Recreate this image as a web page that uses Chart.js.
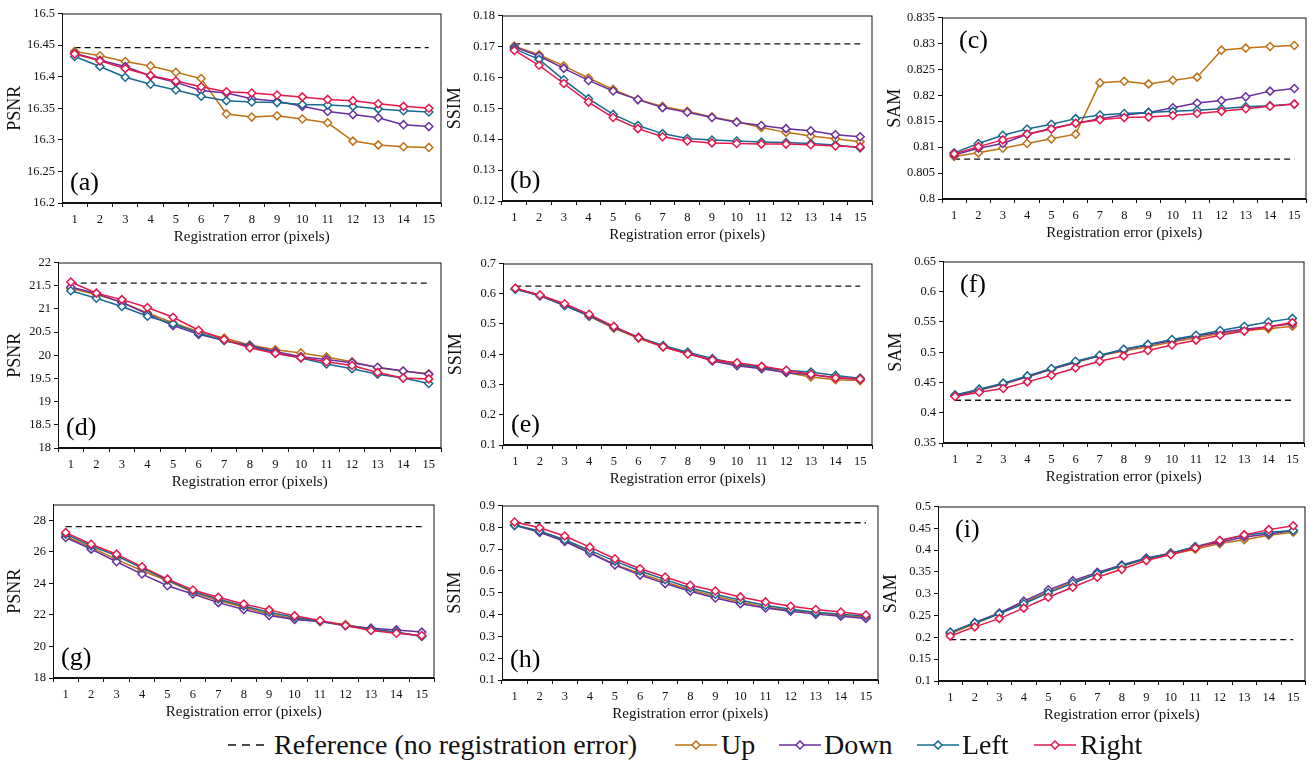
<!DOCTYPE html>
<html>
<head>
<meta charset="utf-8">
<script src="https://cdn.jsdelivr.net/npm/chart.js@4.4.1/dist/chart.umd.min.js"></script>
<style>
    body {
        margin: 0;
        width: 1314px;
        height: 765px;
        background: #fff;
        position: relative;
        overflow: hidden;
        font-family: "Liberation Serif", "Times New Roman", serif;
    }
    canvas { position: absolute; }
    .lg {
        position: absolute;
        top: 728px;
        height: 34px;
        line-height: 34px;
        font-size: 28px;
        color: #111;
        white-space: nowrap;
    }
    .lg svg { position: absolute; top: 12px; }
</style>
</head>
<body>

<script>
// x categories
const errors = [1, 2, 3, 4, 5, 6, 7, 8, 9, 10, 11, 12, 13, 14, 15];

// (a) PSNR
const aRef = 16.446;
const aUp = [16.440, 16.433, 16.424, 16.417, 16.407, 16.397, 16.341, 16.336, 16.338, 16.333, 16.327, 16.298, 16.292, 16.289, 16.288];
const aDown = [16.437, 16.426, 16.416, 16.401, 16.391, 16.378, 16.374, 16.365, 16.361, 16.353, 16.345, 16.340, 16.335, 16.324, 16.321];
const aLeft = [16.432, 16.416, 16.399, 16.388, 16.379, 16.369, 16.362, 16.360, 16.359, 16.356, 16.355, 16.353, 16.349, 16.346, 16.344];
const aRight = [16.436, 16.425, 16.413, 16.402, 16.393, 16.384, 16.376, 16.374, 16.371, 16.368, 16.364, 16.362, 16.357, 16.353, 16.350];
const aTicks = [16.2, 16.25, 16.3, 16.35, 16.4, 16.45, 16.5];

// (b) SSIM
const bRef = 0.1708;
const bUp = [0.1701, 0.1673, 0.1637, 0.1598, 0.1561, 0.1528, 0.1506, 0.1490, 0.1472, 0.1456, 0.1438, 0.1422, 0.1410, 0.1401, 0.1392];
const bDown = [0.1698, 0.1669, 0.1629, 0.1590, 0.1556, 0.1528, 0.1502, 0.1487, 0.1470, 0.1455, 0.1444, 0.1434, 0.1427, 0.1414, 0.1408];
const bLeft = [0.1692, 0.1658, 0.1592, 0.1531, 0.1480, 0.1444, 0.1418, 0.1402, 0.1397, 0.1394, 0.1391, 0.1389, 0.1386, 0.1381, 0.1372];
const bRight = [0.1687, 0.1639, 0.1580, 0.1520, 0.1470, 0.1434, 0.1408, 0.1394, 0.1388, 0.1386, 0.1384, 0.1384, 0.1382, 0.1378, 0.1375];
const bTicks = [0.12, 0.13, 0.14, 0.15, 0.16, 0.17, 0.18];

// (c) SAM
const cRef = 0.8077;
const cUp = [0.8082, 0.8089, 0.8098, 0.8107, 0.8116, 0.8125, 0.8224, 0.8227, 0.8222, 0.8229, 0.8235, 0.8287, 0.8291, 0.8294, 0.8296];
const cDown = [0.8085, 0.8098, 0.8107, 0.8125, 0.8136, 0.8146, 0.8155, 0.8162, 0.8167, 0.8176, 0.8185, 0.8190, 0.8197, 0.8208, 0.8213];
const cLeft = [0.8089, 0.8107, 0.8123, 0.8135, 0.8144, 0.8155, 0.8162, 0.8165, 0.8167, 0.8169, 0.8171, 0.8174, 0.8178, 0.8180, 0.8183];
const cRight = [0.8087, 0.8101, 0.8114, 0.8125, 0.8135, 0.8146, 0.8153, 0.8157, 0.8158, 0.8161, 0.8165, 0.8169, 0.8174, 0.8179, 0.8183];
const cTicks = [0.8, 0.805, 0.81, 0.815, 0.82, 0.825, 0.83, 0.835];

// (d) PSNR
const dRef = 21.556;
const dUp = [21.44, 21.31, 21.14, 20.91, 20.70, 20.51, 20.37, 20.22, 20.12, 20.05, 19.96, 19.86, 19.73, 19.66, 19.60];
const dDown = [21.47, 21.33, 21.14, 20.89, 20.64, 20.45, 20.32, 20.21, 20.08, 19.97, 19.91, 19.84, 19.74, 19.66, 19.59];
const dLeft = [21.39, 21.23, 21.05, 20.84, 20.68, 20.48, 20.32, 20.19, 20.05, 19.94, 19.81, 19.71, 19.59, 19.51, 19.39];
const dRight = [21.58, 21.34, 21.20, 21.03, 20.82, 20.54, 20.34, 20.16, 20.04, 19.95, 19.86, 19.78, 19.63, 19.51, 19.49];
const dTicks = [18, 18.5, 19, 19.5, 20, 20.5, 21, 21.5, 22];

// (e) SSIM
const eRef = 0.625;
const eUp = [0.617, 0.595, 0.563, 0.525, 0.486, 0.453, 0.424, 0.402, 0.380, 0.366, 0.354, 0.340, 0.325, 0.316, 0.313];
const eDown = [0.616, 0.593, 0.561, 0.527, 0.489, 0.455, 0.426, 0.404, 0.378, 0.362, 0.352, 0.340, 0.332, 0.322, 0.317];
const eLeft = [0.615, 0.594, 0.561, 0.528, 0.490, 0.456, 0.429, 0.407, 0.386, 0.369, 0.356, 0.346, 0.341, 0.330, 0.321];
const eRight = [0.618, 0.596, 0.567, 0.532, 0.492, 0.455, 0.425, 0.401, 0.381, 0.372, 0.360, 0.347, 0.334, 0.322, 0.318];
const eTicks = [0.1, 0.2, 0.3, 0.4, 0.5, 0.6, 0.7];

// (f) SAM
const fRef = 0.4207;
const fUp = [0.427, 0.437, 0.447, 0.459, 0.472, 0.483, 0.494, 0.502, 0.509, 0.517, 0.524, 0.531, 0.536, 0.539, 0.543];
const fDown = [0.428, 0.438, 0.448, 0.460, 0.472, 0.484, 0.494, 0.504, 0.512, 0.519, 0.527, 0.533, 0.538, 0.542, 0.547];
const fLeft = [0.4295, 0.439, 0.449, 0.461, 0.473, 0.485, 0.495, 0.505, 0.513, 0.521, 0.528, 0.536, 0.543, 0.550, 0.556];
const fRight = [0.427, 0.434, 0.440, 0.451, 0.462, 0.474, 0.485, 0.494, 0.503, 0.512, 0.520, 0.528, 0.535, 0.542, 0.549];
const fTicks = [0.35, 0.4, 0.45, 0.5, 0.55, 0.6, 0.65];

// (g) PSNR
const gRef = 27.6;
const gUp = [26.99, 26.27, 25.52, 24.80, 24.17, 23.43, 22.91, 22.48, 22.06, 21.75, 21.58, 21.39, 21.09, 20.88, 20.67];
const gDown = [26.91, 26.17, 25.37, 24.59, 23.85, 23.33, 22.78, 22.34, 21.96, 21.71, 21.58, 21.33, 21.16, 21.05, 20.91];
const gLeft = [27.12, 26.38, 25.75, 24.97, 24.21, 23.49, 23.01, 22.57, 22.17, 21.85, 21.60, 21.31, 21.09, 20.91, 20.63];
const gRight = [27.22, 26.48, 25.85, 25.05, 24.27, 23.58, 23.12, 22.69, 22.32, 21.94, 21.64, 21.33, 21.01, 20.84, 20.69];
const gTicks = [18, 20, 22, 24, 26, 28];

// (h) SSIM
const hRef = 0.821;
const hUp = [0.812, 0.781, 0.740, 0.685, 0.630, 0.588, 0.549, 0.514, 0.484, 0.458, 0.435, 0.420, 0.408, 0.397, 0.386];
const hDown = [0.809, 0.777, 0.735, 0.682, 0.627, 0.581, 0.542, 0.507, 0.476, 0.450, 0.430, 0.415, 0.402, 0.392, 0.382];
const hLeft = [0.809, 0.783, 0.743, 0.694, 0.645, 0.600, 0.560, 0.522, 0.493, 0.466, 0.443, 0.424, 0.411, 0.402, 0.392];
const hRight = [0.824, 0.798, 0.760, 0.709, 0.656, 0.610, 0.572, 0.534, 0.508, 0.481, 0.458, 0.438, 0.423, 0.412, 0.398];
const hTicks = [0.1, 0.2, 0.3, 0.4, 0.5, 0.6, 0.7, 0.8, 0.9];

// (i) SAM
const iRef = 0.195;
const iUp = [0.208, 0.231, 0.254, 0.280, 0.305, 0.327, 0.346, 0.363, 0.379, 0.390, 0.402, 0.415, 0.424, 0.434, 0.441];
const iDown = [0.211, 0.234, 0.256, 0.283, 0.309, 0.330, 0.349, 0.366, 0.382, 0.393, 0.407, 0.418, 0.430, 0.437, 0.445];
const iLeft = [0.212, 0.233, 0.254, 0.277, 0.302, 0.324, 0.346, 0.364, 0.380, 0.393, 0.408, 0.422, 0.434, 0.441, 0.445];
const iRight = [0.203, 0.224, 0.243, 0.267, 0.292, 0.315, 0.338, 0.356, 0.376, 0.390, 0.405, 0.422, 0.435, 0.447, 0.456];
const iTicks = [0.1, 0.15, 0.2, 0.25, 0.3, 0.35, 0.4, 0.45, 0.5];

const seriesNames = ["Up", "Down", "Left", "Right"];
const seriesColors = ["#BD7214", "#6A2E9E", "#17698F", "#E8174B"];
const FONT = "'Liberation Serif', 'Times New Roman', serif";

// plot box = [left, top, right, bottom] of the framed area on the page
const panels = [
    { tag: "(a)", yTitle: "PSNR", box: [62, 13, 443, 203], ref: aRef, data: [aUp, aDown, aLeft, aRight], ticks: aTicks, tagAt: "bottom" },
    { tag: "(b)", yTitle: "SSIM", box: [502, 15, 874, 201], ref: bRef, data: [bUp, bDown, bLeft, bRight], ticks: bTicks, tagAt: "bottom" },
    { tag: "(c)", yTitle: "SAM", box: [942, 17, 1308, 199], ref: cRef, data: [cUp, cDown, cLeft, cRight], ticks: cTicks, tagAt: "top" },
    { tag: "(d)", yTitle: "PSNR", box: [58, 262, 443, 448], ref: dRef, data: [dUp, dDown, dLeft, dRight], ticks: dTicks, tagAt: "bottom" },
    { tag: "(e)", yTitle: "SSIM", box: [503, 263, 874, 445], ref: eRef, data: [eUp, eDown, eLeft, eRight], ticks: eTicks, tagAt: "bottom" },
    { tag: "(f)", yTitle: "SAM", box: [943, 261, 1306, 443], ref: fRef, data: [fUp, fDown, fLeft, fRight], ticks: fTicks, tagAt: "top" },
    { tag: "(g)", yTitle: "PSNR", box: [53, 504, 436, 678], ref: gRef, data: [gUp, gDown, gLeft, gRight], ticks: gTicks, yMax: 29, tagAt: "bottom" },
    { tag: "(h)", yTitle: "SSIM", box: [502, 505, 880, 680], ref: hRef, data: [hUp, hDown, hLeft, hRight], ticks: hTicks, tagAt: "bottom" },
    { tag: "(i)", yTitle: "SAM", box: [938, 506, 1307, 681], ref: iRef, data: [iUp, iDown, iLeft, iRight], ticks: iTicks, tagAt: "top" }
];

// frame around the plot area + panel letter
const framePlugin = {
    id: "frame",
    afterDraw(chart, args, opts) {
        const { ctx, chartArea: ca } = chart;
        ctx.save();
        ctx.strokeStyle = "#111";
        ctx.lineWidth = 1;
        ctx.strokeRect(ca.left + 0.5, ca.top + 0.5, ca.width - 1, ca.height - 1);
        ctx.fillStyle = "#000";
        ctx.font = "26px " + FONT;
        ctx.textBaseline = "middle";
        if (opts.at === "top") {
            ctx.fillText(opts.tag, ca.left + 17, ca.top + 24);
        } else {
            ctx.fillText(opts.tag, ca.left + 8, ca.bottom - 20);
        }
        ctx.restore();
    }
};

function makePanel(p) {

    const [L, T, R, B] = p.box;
    const cLeft = Math.max(0, L - 62);
    const cTop = T - 10;
    const yWidth = L - cLeft;

    const canvas = document.createElement("canvas");
    canvas.width = R + 4 - cLeft;
    canvas.height = B + 45 - cTop;
    canvas.style.left = cLeft + "px";
    canvas.style.top = cTop + "px";
    document.body.appendChild(canvas);

    const datasets = p.data.map((values, k) => ({
        label: seriesNames[k],
        data: values,
        borderColor: seriesColors[k],
        backgroundColor: "#fff",
        borderWidth: 1.5,
        pointStyle: "rectRot",
        pointRadius: 4,
        pointBorderWidth: 1.5,
        pointBackgroundColor: "#fff",
        pointBorderColor: seriesColors[k],
        tension: 0,
        order: 3 - k
    }));

    datasets.push({
        label: "Reference (no registration error)",
        data: errors.map(() => p.ref),
        borderColor: "#111",
        borderWidth: 1.3,
        borderDash: [6, 4],
        pointRadius: 0,
        order: 5
    });

    new Chart(canvas, {
        type: "line",
        data: { labels: errors, datasets },
        plugins: [framePlugin],
        options: {
            responsive: false,
            animation: false,
            events: [],
            layout: { padding: { top: 10, right: 4, left: 0, bottom: 0 } },
            plugins: {
                legend: { display: false },
                tooltip: { enabled: false },
                frame: { tag: p.tag, at: p.tagAt }
            },
            scales: {
                x: {
                    offset: true,
                    afterFit: (s) => { s.height = 45; },
                    grid: {
                        offset: true,
                        drawOnChartArea: false,
                        color: "#111",
                        tickLength: 4
                    },
                    border: { color: "#111" },
                    ticks: {
                        color: "#111",
                        padding: 5,
                        maxRotation: 0,
                        autoSkip: false,
                        font: { family: FONT, size: 12.5 }
                    },
                    title: {
                        display: true,
                        text: "Registration error (pixels)",
                        color: "#111",
                        padding: { top: 0, bottom: 2 },
                        font: { family: FONT, size: 15 }
                    }
                },
                y: {
                    min: p.ticks[0],
                    max: p.yMax ?? p.ticks[p.ticks.length - 1],
                    afterFit: (s) => { s.width = yWidth; },
                    afterBuildTicks: (s) => { s.ticks = p.ticks.map(v => ({ value: v })); },
                    grid: {
                        drawOnChartArea: false,
                        color: "#111",
                        tickLength: 4
                    },
                    border: { color: "#111" },
                    ticks: {
                        color: "#111",
                        padding: 3,
                        font: { family: FONT, size: 12.5 },
                        callback: (v) => String(+v.toFixed(4))
                    },
                    title: {
                        display: true,
                        text: p.yTitle,
                        color: "#111",
                        padding: { top: 4, bottom: 0 },
                        font: { family: FONT, size: 18 }
                    }
                }
            }
        }
    });
}

panels.forEach(makePanel);

// legend (shared by all panels)
const legendItems = [
    { text: "Reference (no registration error)", color: "#111", dashed: true, lineX: 226, textX: 274 },
    { text: "Up", color: seriesColors[0], lineX: 673, textX: 721 },
    { text: "Down", color: seriesColors[1], lineX: 777, textX: 824 },
    { text: "Left", color: seriesColors[2], lineX: 915, textX: 962 },
    { text: "Right", color: seriesColors[3], lineX: 1032, textX: 1080 }
];

legendItems.forEach(item => {
    const mark = document.createElement("div");
    mark.className = "lg";
    mark.style.left = item.lineX + "px";
    mark.style.width = "46px";
    const dia = item.dashed ? "" :
        `<path d="M19 5 L23 1 L27 5 L23 9 Z" fill="#fff" stroke="${item.color}" stroke-width="1.5"/>`;
    mark.innerHTML =
        `<svg width="46" height="10"><line x1="2" y1="5" x2="44" y2="5" stroke="${item.color}" stroke-width="1.5"` +
        (item.dashed ? ` stroke-dasharray="8,6"` : "") + `/>${dia}</svg>`;
    document.body.appendChild(mark);

    const label = document.createElement("div");
    label.className = "lg";
    label.style.left = item.textX + "px";
    label.textContent = item.text;
    document.body.appendChild(label);
});
</script>
</body>
</html>
